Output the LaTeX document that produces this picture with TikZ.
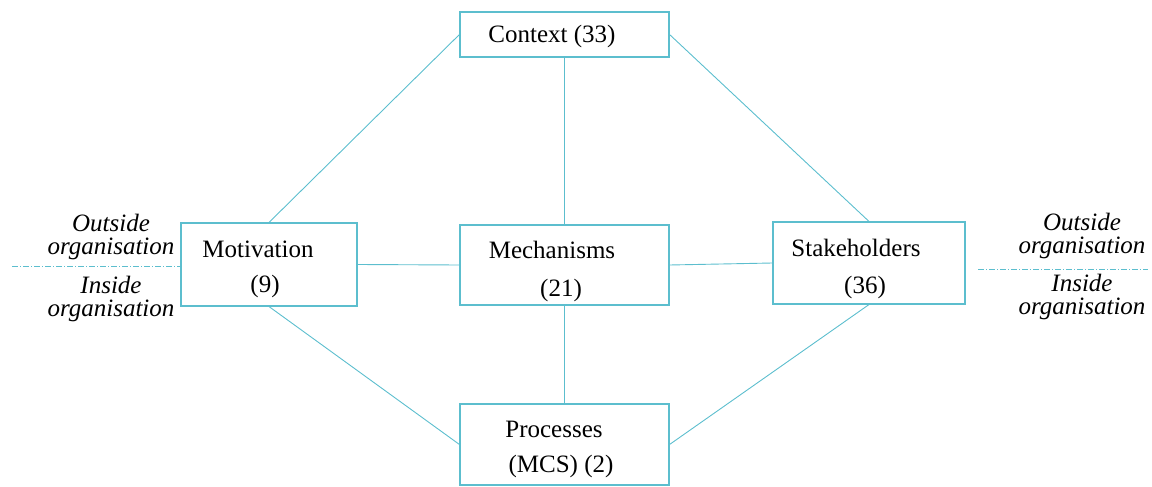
\documentclass[tikz,border=0pt]{standalone}
\usepackage{fontspec}
\setmainfont{Liberation Serif}
\newfontfamily\tnr{Liberation Serif}
\definecolor{boxcol}{RGB}{92,190,206}
\begin{document}
\begin{tikzpicture}[x=1pt,y=-1pt,
  box/.style={draw=boxcol,line width=1.1pt,minimum width=#1,inner sep=0pt,fill=white},
  conn/.style={draw=boxcol,line width=0.9pt},
  sep/.style={draw=boxcol,line width=0.9pt,dash pattern=on 6pt off 2pt on 1pt off 2pt},
  lbl/.style={anchor=base,inner sep=0pt,font=\tnr\fontsize{25}{30}\selectfont},
  side/.style={align=center,inner sep=0pt,font=\tnr\fontsize{25}{23}\itshape\selectfont}]
\useasboundingbox (0,0) rectangle (1152,487);
% boxes
\node[box=209pt,minimum height=45pt] (ctx) at (564.5,34.5) {};
\node[box=176pt,minimum height=83pt] (mot) at (269,264.5) {};
\node[box=209pt,minimum height=80pt] (mec) at (564.5,265) {};
\node[box=192pt,minimum height=82pt] (stk) at (869,263) {};
\node[box=209pt,minimum height=81pt] (pro) at (564.5,444.5) {};
% connectors
\draw[conn] (ctx.west) -- (mot.north);
\draw[conn] (ctx.east) -- (stk.north);
\draw[conn] (ctx.south) -- (mec.north);
\draw[conn] (mot.east) -- (mec.west);
\draw[conn] (mec.east) -- (stk.west);
\draw[conn] (mot.south) -- (pro.west);
\draw[conn] (stk.south) -- (pro.east);
\draw[conn] (mec.south) -- (pro.north);
% labels
\node[lbl] (tctx) at (552,43) {Context (33)};
\node[lbl] (tmot) at (258,257) {Motivation};
\node[lbl] (tmot2) at (265,292) {(9)};
\node[lbl] (tmec) at (552,258) {Mechanisms};
\node[lbl] (tmec2) at (561,296) {(21)};
\node[lbl] (tstk) at (856,256) {Stakeholders};
\node[lbl] (tstk2) at (865,293) {(36)};
\node[lbl] (tpro) at (554,437) {Processes};
\node[lbl] (tpro2) at (561,472) {(MCS) (2)};
% side separators
\coordinate (la) at (12,266);
\coordinate (lb) at (181,266);
\coordinate (ra) at (978,269);
\coordinate (rb) at (1148,269);
\draw[sep] (la) -- (lb);
\draw[sep] (ra) -- (rb);
\node[side] (lout) at (111,237) {Outside\\organisation};
\node[side] (lin) at (111,299) {Inside\\organisation};
\node[side] (rout) at (1082,236) {Outside\\organisation};
\node[side] (rin) at (1082,297) {Inside\\organisation};
\end{tikzpicture}
\end{document}
